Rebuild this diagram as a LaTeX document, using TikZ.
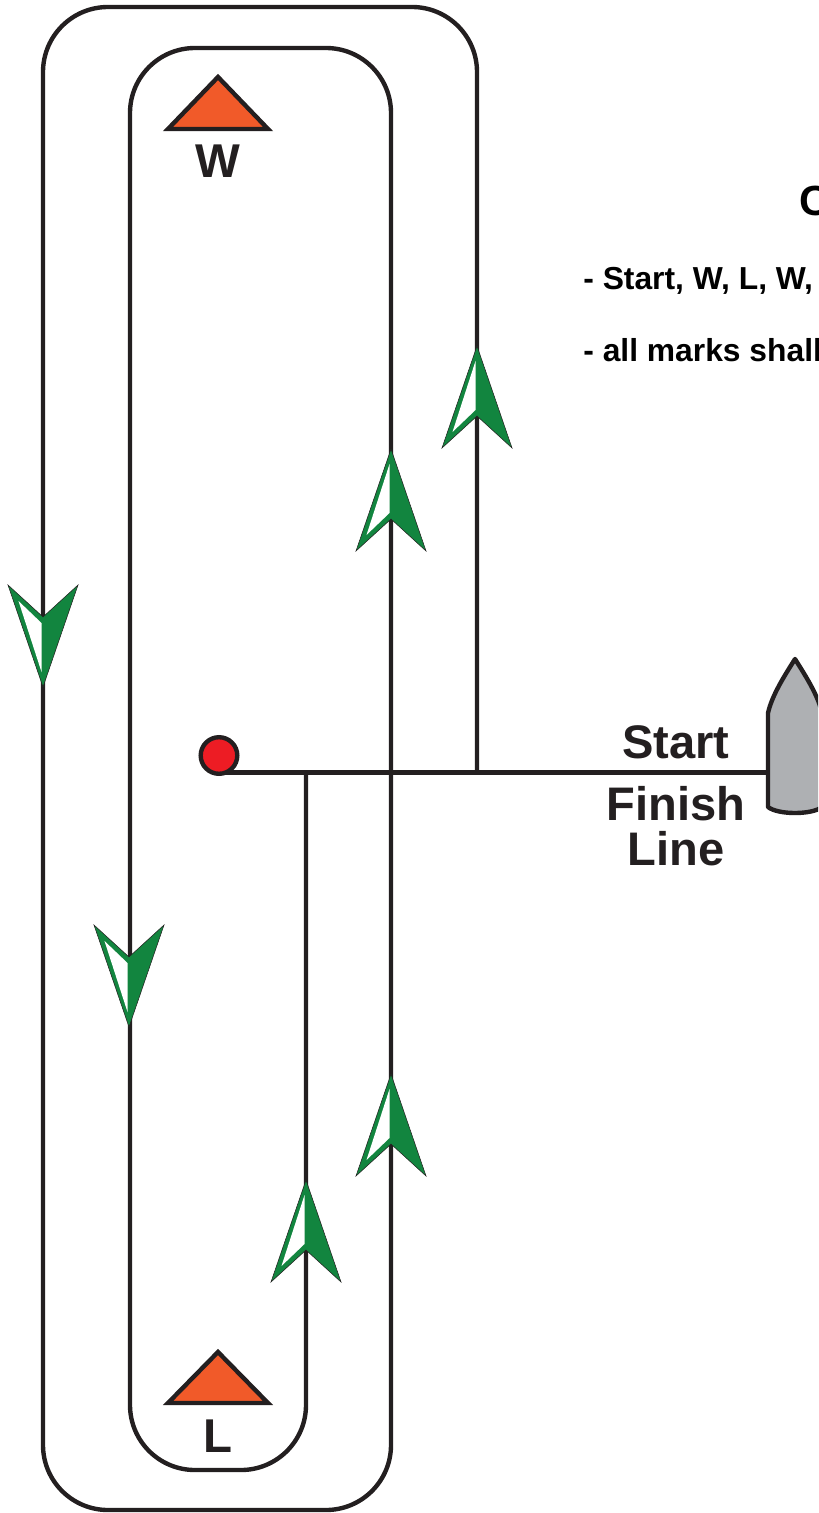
\documentclass[tikz,border=0pt]{standalone}
\usepackage{fontspec}
\setmainfont{Liberation Sans}
\definecolor{markorange}{HTML}{F15A29}
\definecolor{arrowgreen}{HTML}{12853F}
\definecolor{boatgray}{HTML}{AEB0B3}
\definecolor{inkblack}{HTML}{231F20}
\definecolor{pinred}{HTML}{ED1C24}
\tikzset{
    course/.style={draw=inkblack, line width=2.5pt},
    buoy/.style={draw=inkblack, line width=2.5pt, fill=markorange, line join=miter},
    linetext/.style={inner sep=0pt, anchor=base, text=inkblack, font=\bfseries\fontsize{26.8}{30}\selectfont},
    buoytext/.style={inner sep=0pt, anchor=base, text=inkblack, font=\bfseries\fontsize{27}{30}\selectfont},
    notetext/.style={inner sep=0pt, anchor=base west, text=black, font=\bfseries\fontsize{18.1}{22}\selectfont}
}
\begin{document}
\begin{tikzpicture}[x=0.02cm, y=-0.02cm]
    \useasboundingbox (0,0) rectangle (818,1513);
    \clip (0,0) rectangle (818,1513);
    % Definitions
    \def \turn{1.3cm}
    %%%
    %%% Course lines
    %%%
    % Start line
    \coordinate (pin) at (219,772.5);
    \coordinate (stern) at (768,772.5);
    \draw[course] (pin) -- (stern);
    % Sailed track
    \draw[course, rounded corners=\turn] (477,772) -- (477,7) -- (43,7) -- (43,1510) -- (391,1510) -- (391,48) -- (130,48) -- (130,1470) -- (306,1470) -- (306,772);
    % Pin end
    \draw[line width=2.5pt, draw=inkblack, fill=pinred] (219,755.5) circle (18.3);
    % Marks
    \draw[buoy] (218,77) -- (268,129) -- (168,129) -- cycle;
    \draw[buoy] (218,1352) -- (268,1403) -- (168,1403) -- cycle;
    \node[buoytext] (markw) at (218,178) {W};
    \node[buoytext] (markl) at (218,1452) {L};
    %%%
    %%% Direction arrows
    %%%
    \foreach \x/\y/\flip in {477/348/1, 391/451/1, 391/1076/1, 306/1182/1, 43/685/-1, 129/1025/-1}
    {
        \begin{scope}[shift={(\x,\y)}, yscale=\flip]
            \filldraw[fill=arrowgreen, draw=inkblack, line width=0.3pt, line join=miter] (0,-2) -- (35,100) -- (0,68) -- (-35,100) -- cycle;
            \fill[white] (-1.5,13) -- (-24.5,84) -- (-1.5,62) -- cycle;
        \end{scope}
    }
    %%%
    %%% Committee boat
    %%%
    \draw[line width=2.5pt, draw=inkblack, fill=boatgray, line join=round] (768,807) -- (768,713) .. controls (772,695) and (785,675) .. (795,659) .. controls (805,675) and (818,695) .. (822,713) -- (822,807) .. controls (812,815) and (778,815) .. (768,807) -- cycle;
    % Line labels
    \node[linetext] (start) at (676,758) {Start};
    \node[linetext] (finish) at (676,820) {Finish};
    \node[linetext] (line) at (676,865) {Line};
    %%%
    %%% Notes
    %%%
    \node[notetext, font=\bfseries\fontsize{24}{26}\selectfont] (title) at (799,216) {C};
    \node[notetext] (order) at (583,290) {- Start, W, L, W,};
    \node[notetext] (marks) at (583,362) {- all marks shall};
\end{tikzpicture}
\end{document}
